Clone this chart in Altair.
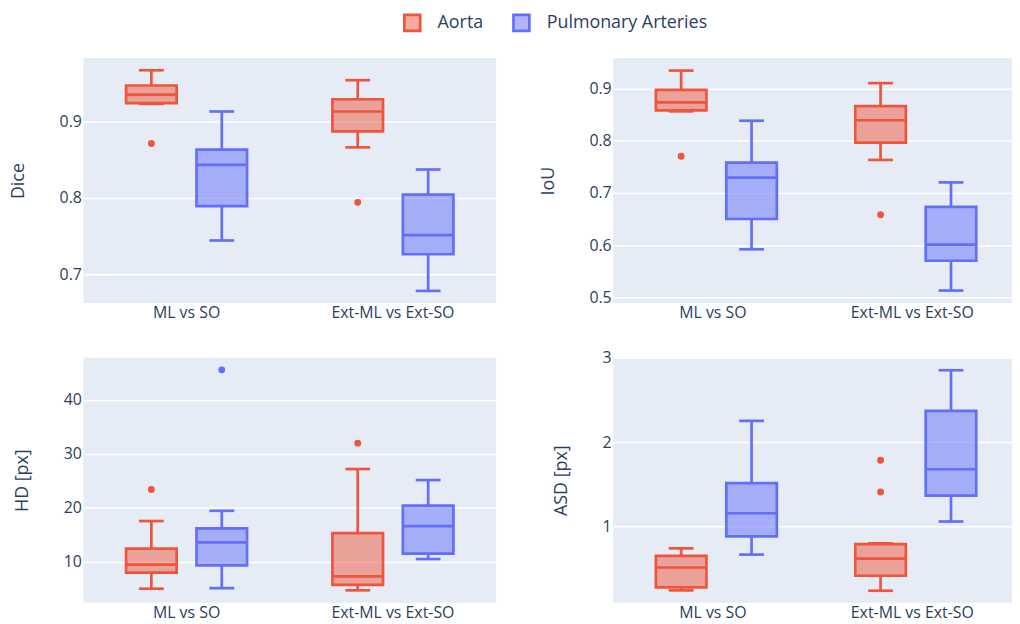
import altair as alt
import pandas as pd

comparisons = ["ML vs SO", "Ext-ML vs Ext-SO"]
structures = ["Aorta", "Pulmonary Arteries"]
colors = ["#EF553B", "#636EFA"]
legend_fills = ["#F7AA9D", "#B1B6FC"]

# box order: (ML, Aorta), (ML, PA), (Ext, Aorta), (Ext, PA)
box_comparison = ["ML vs SO", "ML vs SO", "Ext-ML vs Ext-SO", "Ext-ML vs Ext-SO"]
box_structure = ["Aorta", "Pulmonary Arteries", "Aorta", "Pulmonary Arteries"]

dice_lower = [0.923, 0.744, 0.866, 0.678]
dice_q1 = [0.924, 0.789, 0.887, 0.726]
dice_median = [0.935, 0.843, 0.913, 0.751]
dice_q3 = [0.947, 0.863, 0.929, 0.804]
dice_upper = [0.967, 0.913, 0.954, 0.837]
dice_out_comparison = ["ML vs SO", "Ext-ML vs Ext-SO"]
dice_out_structure = ["Aorta", "Aorta"]
dice_out_value = [0.871, 0.794]

iou_lower = [0.856, 0.592, 0.763, 0.513]
iou_q1 = [0.858, 0.650, 0.796, 0.570]
iou_median = [0.873, 0.729, 0.839, 0.601]
iou_q3 = [0.897, 0.758, 0.866, 0.673]
iou_upper = [0.934, 0.838, 0.910, 0.720]
iou_out_comparison = ["ML vs SO", "Ext-ML vs Ext-SO"]
iou_out_structure = ["Aorta", "Aorta"]
iou_out_value = [0.770, 0.658]

hd_lower = [5.0, 5.1, 4.7, 10.5]
hd_q1 = [7.97, 9.33, 5.7, 11.5]
hd_median = [9.45, 13.6, 7.3, 16.6]
hd_q3 = [12.45, 16.2, 15.3, 20.4]
hd_upper = [17.55, 19.45, 27.2, 25.15]
hd_out_comparison = ["ML vs SO", "ML vs SO", "Ext-ML vs Ext-SO"]
hd_out_structure = ["Aorta", "Pulmonary Arteries", "Aorta"]
hd_out_value = [23.4, 45.6, 32.0]

asd_lower = [0.243, 0.667, 0.239, 1.059]
asd_q1 = [0.278, 0.882, 0.416, 1.365]
asd_median = [0.514, 1.157, 0.620, 1.678]
asd_q3 = [0.651, 1.514, 0.792, 2.369]
asd_upper = [0.741, 2.251, 0.800, 2.851]
asd_out_comparison = ["Ext-ML vs Ext-SO", "Ext-ML vs Ext-SO"]
asd_out_structure = ["Aorta", "Aorta"]
asd_out_value = [1.784, 1.408]

LW = 2.7


def panel(title, lower, q1, median, q3, upper, oc, os_, ov, domain, ticks, fmt, w, h):
    df = pd.DataFrame(dict(comparison=box_comparison, structure=box_structure,
                           lower=lower, q1=q1, median=median, q3=q3, upper=upper))
    odf = pd.DataFrame(dict(comparison=oc, structure=os_, value=ov))
    ldf = pd.DataFrame(dict(structure=structures))

    x = alt.X("comparison:N", sort=comparisons,
              scale=alt.Scale(domain=comparisons, paddingInner=0, paddingOuter=0),
              axis=alt.Axis(title=None, labelAngle=0, grid=False, labelPadding=2))
    xo = alt.XOffset("structure:N", sort=structures,
                     scale=alt.Scale(domain=structures, paddingInner=0.282, paddingOuter=0.606))

    def y(field):
        return alt.Y(field, scale=alt.Scale(domain=domain, nice=False, zero=False),
                     axis=alt.Axis(title=title, values=ticks, format=fmt, labelPadding=2,
                                   titlePadding=32))

    leg = alt.Legend(title=None, orient="none", direction="horizontal", legendX=322, legendY=-45,
                     symbolType="square", symbolSize=256, symbolStrokeWidth=LW,
                     labelFontSize=18, labelColor="#2a3f5f", labelFont="Open Sans",
                     labelOffset=16, columnPadding=25, labelLimit=400)
    cscale = alt.Scale(domain=structures, range=colors)
    lscale = alt.Scale(domain=structures, range=legend_fills)
    stroke = alt.Stroke("structure:N", scale=cscale, legend=leg)
    lfill = alt.Fill("structure:N", scale=lscale, legend=leg)
    color = alt.Color("structure:N", scale=cscale, legend=None)

    base = alt.Chart(df)
    key = alt.Chart(ldf).mark_square(size=0, opacity=1, strokeWidth=LW).encode(fill=lfill, stroke=stroke)
    box = base.mark_bar(fillOpacity=0.5, strokeWidth=LW).encode(
        x=x, xOffset=xo, y=y("q1:Q"), y2="q3:Q", color=color, stroke=stroke)
    wl = base.mark_rule(strokeWidth=LW).encode(x=x, xOffset=xo, y=y("lower:Q"), y2="q1:Q", color=color)
    wh = base.mark_rule(strokeWidth=LW).encode(x=x, xOffset=xo, y=y("q3:Q"), y2="upper:Q", color=color)
    med = base.mark_tick(thickness=LW, size=50, opacity=1).encode(x=x, xOffset=xo, y=y("median:Q"), color=color)
    cl = base.mark_tick(thickness=LW, size=25, opacity=1).encode(x=x, xOffset=xo, y=y("lower:Q"), color=color)
    ch = base.mark_tick(thickness=LW, size=25, opacity=1).encode(x=x, xOffset=xo, y=y("upper:Q"), color=color)
    pts = alt.Chart(odf).mark_circle(size=48, opacity=1).encode(x=x, xOffset=xo, y=y("value:Q"), color=color)
    return alt.layer(key, box, wl, wh, med, cl, ch, pts).properties(width=w, height=h)


p1 = panel("Dice", dice_lower, dice_q1, dice_median, dice_q3, dice_upper,
           dice_out_comparison, dice_out_structure, dice_out_value,
           [0.662, 0.983], [0.7, 0.8, 0.9], ".1f", 416, 247)
p2 = panel("IoU", iou_lower, iou_q1, iou_median, iou_q3, iou_upper,
           iou_out_comparison, iou_out_structure, iou_out_value,
           [0.489, 0.958], [0.5, 0.6, 0.7, 0.8, 0.9], ".1f", 402, 247)
p3 = panel("HD [px]", hd_lower, hd_q1, hd_median, hd_q3, hd_upper,
           hd_out_comparison, hd_out_structure, hd_out_value,
           [2.4, 47.86], [10, 20, 30, 40], "d", 416, 247)
p4 = panel("ASD [px]", asd_lower, asd_q1, asd_median, asd_q3, asd_upper,
           asd_out_comparison, asd_out_structure, asd_out_value,
           [0.097, 3.0], [1, 2, 3], "d", 402, 247)

chart = alt.concat(p1, p2, p3, p4, columns=2, bounds="flush",
                   spacing={"row": 55, "column": 118}).resolve_scale(
    fill="shared", stroke="shared", color="shared").properties(
    padding={"left": 1, "top": 3, "right": 0, "bottom": 0},
    background="white"
).configure_view(stroke=None, fill="#E5ECF6").configure_axis(
    labelFont="Open Sans", labelFontSize=16, labelColor="#2a3f5f",
    titleFont="Open Sans", titleFontSize=18, titleColor="#2a3f5f", titleFontWeight="normal",
    domain=False, ticks=False, gridColor="white", gridWidth=1.5
)

chart.save("out.html", embed_options={"renderer": "svg", "actions": False})
